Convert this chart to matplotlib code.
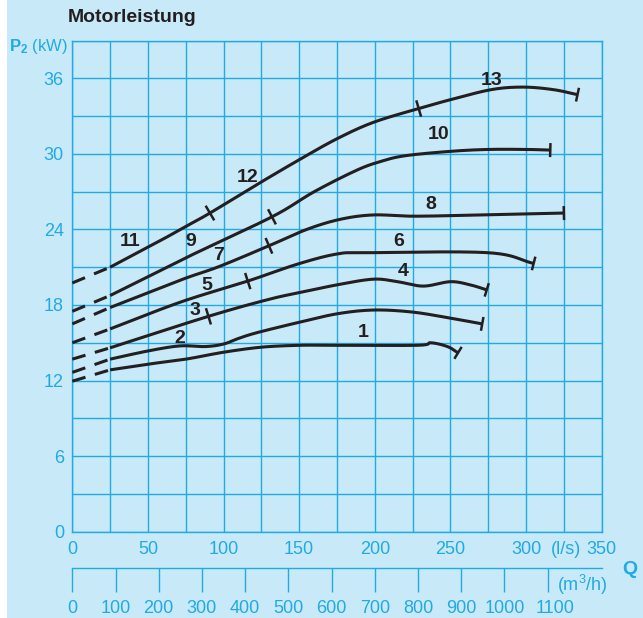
import numpy as np
import matplotlib.pyplot as plt
from matplotlib.patches import Rectangle
import matplotlib.transforms as mtransforms

plt.rcParams['font.family'] = ['Liberation Sans', 'DejaVu Sans']
plt.rcParams['mathtext.fontset'] = 'custom'
plt.rcParams['mathtext.rm'] = 'Liberation Sans'
plt.rcParams['mathtext.bf'] = 'Liberation Sans:bold'

BG = '#c7e9f8'
BLUE = '#22aae4'
INK = '#231f20'

# Q in l/s, P2 in kW; each curve starts at Q = 25 (dashed down to Q = 0)
q_a = [25, 50, 75, 100, 125, 150, 170, 228, 237, 248, 255]
p_a = [12.85, 13.3, 13.7, 14.25, 14.65, 14.8, 14.8, 14.8, 15.0, 14.7, 14.2]

q_b = [25, 50, 71, 88, 100, 110, 122, 149, 175, 199, 224, 248, 271]
p_b = [13.7, 14.35, 14.75, 14.7, 14.9, 15.35, 15.8, 16.6, 17.3, 17.6, 17.45, 17.0, 16.5]

q_c = [25, 90, 130, 151, 175, 199, 215, 232, 250, 263, 274]
p_c = [14.6, 17.1, 18.45, 19.0, 19.6, 20.05, 19.85, 19.5, 19.85, 19.6, 19.2]

q_d = [25, 72, 116, 149, 175, 195, 275, 305]
p_d = [16.1, 18.25, 19.9, 21.25, 22.05, 22.15, 22.15, 21.3]

q_e = [25, 72, 97, 130, 155, 177, 199, 226, 270, 325]
p_e = [17.8, 20.0, 21.05, 22.7, 24.0, 24.8, 25.15, 25.05, 25.15, 25.3]

q_f = [25, 76, 132, 160, 188, 204, 220, 250, 275, 300, 316]
p_f = [18.75, 21.8, 25.0, 27.0, 28.7, 29.4, 29.85, 30.2, 30.35, 30.35, 30.3]

q_g = [25, 58, 76, 91, 124, 151, 175, 199, 229, 250, 277, 298, 318, 334]
p_g = [21.0, 23.1, 24.3, 25.3, 27.7, 29.6, 31.2, 32.5, 33.6, 34.3, 35.1, 35.3, 35.1, 34.7]

# power at Q = 0 for the dashed extrapolation
p_zero = [11.95, 12.65, 13.7, 15.0, 16.5, 17.5, 19.75]

# flow where one numbered segment changes to the next
splits = [[], [], [90], [116], [130], [132], [91, 229]]

curve_q = [q_a, q_b, q_c, q_d, q_e, q_f, q_g]
curve_p = [p_a, p_b, p_c, p_d, p_e, p_f, p_g]

seg_labels = ['1', '2', '3', '4', '5', '6', '7', '8', '9', '10', '11', '12', '13']
label_q = [192, 71, 81, 219, 89, 216, 97, 237, 78, 242, 38, 116, 277]
label_p = [15.8, 15.35, 17.55, 20.65, 19.55, 23.05, 21.9, 25.95, 23.05, 31.55, 23.05, 28.15, 35.85]

yticks = [0, 6, 12, 18, 24, 30, 36]
xticks = [0, 50, 100, 150, 200, 250, 300, 350]
m3h_ticks = [0, 100, 200, 300, 400, 500, 600, 700, 800, 900, 1000, 1100]
M3H_PER_LS = 3.5


def smooth(xs, ys, n=30):
    # Catmull-Rom spline through the read points
    pts = np.column_stack([xs, ys]).astype(float)
    pts = np.vstack([2 * pts[0] - pts[1], pts, 2 * pts[-1] - pts[-2]])
    out = []
    t = np.linspace(0, 1, n, endpoint=False)[:, None]
    for i in range(1, len(pts) - 2):
        p0, p1, p2, p3 = pts[i - 1], pts[i], pts[i + 1], pts[i + 2]
        seg = 0.5 * ((2 * p1) + (-p0 + p2) * t
                     + (2 * p0 - 5 * p1 + 4 * p2 - p3) * t ** 2
                     + (-p0 + 3 * p1 - 3 * p2 + p3) * t ** 3)
        out.append(seg)
    out.append(pts[-2][None, :])
    out = np.vstack(out)
    return out[:, 0], out[:, 1]


fig = plt.figure(figsize=(6.43, 6.18), dpi=100, facecolor=BG)
fig.patches.append(Rectangle((0, 0), 7 / 643, 1, transform=fig.transFigure,
                             facecolor='white', edgecolor='none', zorder=0))

x0, x1 = 72.3 / 643, 601.7 / 643
y0, y1 = 1 - 531.7 / 618, 1 - 40.5 / 618
ax = fig.add_axes([x0, y0, x1 - x0, y1 - y0])
ax.set_facecolor(BG)
ax.set_xlim(0, 350)
ax.set_ylim(0, 39)

ax.set_xticks(xticks)
ax.set_xticks(np.arange(0, 351, 25), minor=True)
ax.set_yticks(yticks)
ax.set_yticks(np.arange(0, 40, 3), minor=True)
ax.grid(True, which='both', color=BLUE, lw=1.0)
ax.set_axisbelow(True)
for s in ax.spines.values():
    s.set_color(BLUE)
    s.set_linewidth(1.0)
ax.tick_params(which='both', length=0, colors=BLUE, labelsize=13)
ax.tick_params(axis='x', pad=7)
ax.tick_params(axis='y', pad=6)
ax.set_xticklabels([str(v) for v in xticks])

# pixel scale for drawing the short cross marks
sx = (x1 - x0) * 643 / 350
sy = (y1 - y0) * 618 / 39


def cross(xs, ys, q, length):
    i = int(np.argmin(np.abs(xs - q)))
    j0, j1 = max(i - 2, 0), min(i + 2, len(xs) - 1)
    dx = (xs[j1] - xs[j0]) * sx
    dy = (ys[j1] - ys[j0]) * sy
    n = np.hypot(dx, dy)
    nx, ny = -dy / n, dx / n
    h = length / 2
    ax.plot([xs[i] - nx * h / sx, xs[i] + nx * h / sx],
            [ys[i] - ny * h / sy, ys[i] + ny * h / sy],
            color=INK, lw=1.8, solid_capstyle='butt', zorder=4)


for q, p, pz, sp in zip(curve_q, curve_p, p_zero, splits):
    ax.plot([0, q[0]], [pz, p[0]], color=INK, lw=2.2,
            dashes=(4.5, 3.2), zorder=3)
    xs, ys = smooth(q, p)
    ax.plot(xs, ys, color=INK, lw=2.2, solid_capstyle='butt', zorder=3)
    for s in sp:
        cross(xs, ys, s, 17)
    cross(xs, ys, xs[-1], 14)

for t, lq, lp in zip(seg_labels, label_q, label_p):
    ax.text(lq, lp, t, fontsize=14, fontweight='bold', color=INK,
            ha='center', va='center', zorder=5)

# axis captions
fig.text(68 / 643, 1 - 17 / 618, 'Motorleistung', fontsize=14,
         fontweight='bold', color=INK, ha='left', va='center')
fig.text(68 / 643, 1 - 47 / 618, r'$\mathbf{P_2}$ (kW)', fontsize=12,
         color=BLUE, ha='right', va='center')
fig.text(566 / 643, 1 - 549 / 618, '(l/s)', fontsize=13, color=BLUE,
         ha='center', va='center')

# second flow scale in m3/h
ax2 = fig.add_axes([x0, 1 - 568 / 618, x1 - x0, 0.0001])
ax2.set_facecolor('none')
ax2.set_xlim(0, 350 * M3H_PER_LS)
ax2.set_yticks([])
for k in ['left', 'right', 'top']:
    ax2.spines[k].set_visible(False)
ax2.spines['bottom'].set_color(BLUE)
ax2.spines['bottom'].set_linewidth(1.0)
ax2.set_xticks(m3h_ticks)
ax2.set_xticklabels([str(v) for v in m3h_ticks])
ax2.tick_params(axis='x', direction='out', length=17, width=1.0,
                colors=BLUE, labelsize=13, pad=6)
# last label sits a little right of its tick
last = ax2.get_xticklabels()[-1]
last.set_transform(last.get_transform() +
                   mtransforms.ScaledTranslation(7 / 100, 0, fig.dpi_scale_trans))

fig.text(582 / 643, 1 - 585 / 618, '(m$^3$/h)', fontsize=13, color=BLUE,
         ha='center', va='center')
fig.text(630 / 643, 1 - 569 / 618, 'Q', fontsize=14, fontweight='bold',
         color=BLUE, ha='center', va='center')

fig.savefig('out.png', dpi=100, facecolor=BG)
